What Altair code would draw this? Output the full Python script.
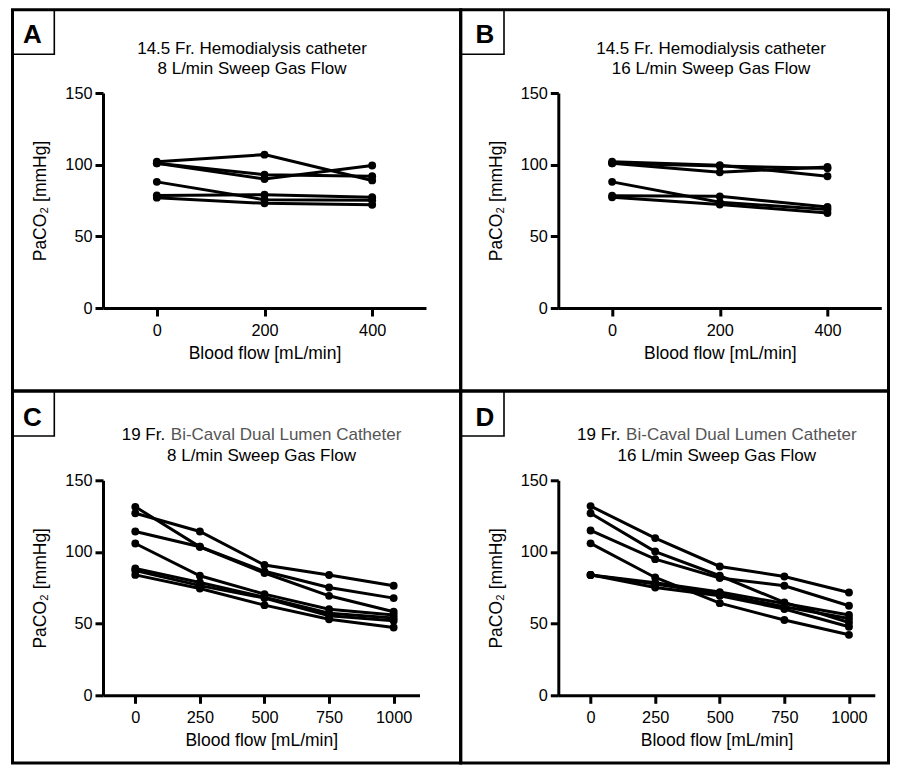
import altair as alt
import pandas as pd

FONT = "Liberation Sans"

flow_ab = [0, 200, 400]
flow_cd = [0, 250, 500, 750, 1000]

a_series = [
    [102, 107, 89],
    [101, 90, 99.4],
    [101, 93, 92],
    [88, 75.6, 75.2],
    [78.5, 79, 77.3],
    [77, 73, 72],
]
b_series = [
    [102, 99.6, 91.9],
    [101, 94.7, 98.4],
    [101, 99, 97.5],
    [88, 73.8, 68.7],
    [78.4, 77.9, 70.5],
    [77.3, 72.2, 66.3],
]
c_series = [
    [127, 114.3, 90.9, 83.9, 76.4],
    [131.5, 103.6, 85.3, 69.4, 58.3],
    [114.3, 103.6, 86.5, 75.2, 67.8],
    [105.9, 83.4, 70.6, 60.1, 56],
    [88.5, 78.7, 68.5, 57.3, 53.9],
    [87, 76.5, 67.8, 55.5, 52],
    [84, 74.5, 62.9, 53.1, 47.3],
]
d_series = [
    [132, 109.7, 89.9, 82.9, 71.7],
    [127, 100.3, 83.4, 64.8, 50.8],
    [115, 95, 81.8, 76.4, 62.5],
    [106, 82.2, 64.3, 52.5, 42.2],
    [84, 77.6, 70.6, 61.8, 53.6],
    [84, 75.2, 69.5, 60.2, 47.8],
    [84, 78.5, 72, 64, 56],
]

y_ticks = [0, 50, 100, 150]
x_ticks_ab = [0, 200, 400]
x_ticks_cd = [0, 250, 500, 750, 1000]

x_title = "Blood flow [mL/min]"
y_title = "PaCO\u2082 [mmHg]"

TITLE_FS = 17
H = 215


def panel(series, flows, letter, t1_black, t1_gray, t2, xdomain, xticks, width, g):
    rows = []
    for i, s in enumerate(series):
        for f, v in zip(flows, s):
            rows.append({"series": i, "flow": f, "paco2": v})
    df = pd.DataFrame(rows)
    x = alt.X("flow:Q", scale=alt.Scale(domain=xdomain, nice=False, zero=False),
              axis=alt.Axis(values=xticks, title=x_title, format="d"))
    y = alt.Y("paco2:Q", scale=alt.Scale(domain=[0, 150], nice=False),
              axis=alt.Axis(values=y_ticks, title=y_title))
    base = alt.Chart(df)
    lines = base.mark_line(color="black", strokeWidth=3).encode(x=x, y=y, detail="series:N")
    pts = base.mark_circle(color="black", size=62, opacity=1).encode(x=x, y=y, detail="series:N")

    one = alt.Chart(pd.DataFrame({"k": [0]}))
    cell = one.mark_rect(fillOpacity=0, stroke="black", strokeWidth=3).encode(
        x=alt.value(g["cx1"]), x2=alt.value(g["cx2"]), y=alt.value(g["cy1"]), y2=alt.value(g["cy2"]))
    box = one.mark_rect(fillOpacity=0, stroke="black", strokeWidth=1.6).encode(
        x=alt.value(g["cx1"]), x2=alt.value(g["bx2"]), y=alt.value(g["cy1"]), y2=alt.value(g["by2"]))
    let = one.mark_text(text=letter, font=FONT, fontSize=26, fontWeight="bold", color="black",
                        align="center", baseline="alphabetic").encode(
        x=alt.value(g["lx"]), y=alt.value(g["ly"]))
    layers = [lines, pts, cell, box, let]
    if t1_gray:
        layers.append(one.mark_text(text=t1_black, font=FONT, fontSize=TITLE_FS,
                                    color="black", align="left", baseline="alphabetic").encode(
            x=alt.value(g["t1x"]), y=alt.value(g["t1y"])))
        layers.append(one.mark_text(text=t1_gray, font=FONT, fontSize=TITLE_FS,
                                    color="#555555", align="left", baseline="alphabetic").encode(
            x=alt.value(g["t1x"] + 49.1), y=alt.value(g["t1y"])))
    else:
        layers.append(one.mark_text(text=t1_black, font=FONT, fontSize=TITLE_FS,
                                    color="black", align="center", baseline="alphabetic").encode(
            x=alt.value(g["tc"]), y=alt.value(g["t1y"])))
    layers.append(one.mark_text(text=t2, font=FONT, fontSize=TITLE_FS,
                                color="black", align="center", baseline="alphabetic").encode(
        x=alt.value(g["tc"]), y=alt.value(g["t2y"])))
    return alt.layer(*layers).properties(width=width, height=H)


gA = dict(cx1=-90.5, cx2=357.7, cy1=-83.3, cy2=298, bx2=-48.7, by2=-38.7,
          lx=-70.5, ly=-50, tc=149, t1y=-39.3, t2y=-19)
gB = dict(cx1=-97.6, cx2=330.2, cy1=-83.3, cy2=298, bx2=-54.3, by2=-38.7,
          lx=-73.3, ly=-50.3, tc=152.7, t1y=-39.3, t2y=-19)
gC = dict(cx1=-90.5, cx2=357.7, cy1=-89.3, cy2=282.7, bx2=-48.7, by2=-44.3,
          lx=-70.5, ly=-54.3, tc=158.5, t1x=18.7, t1y=-40.3, t2y=-19.3)
gD = dict(cx1=-97.6, cx2=330.2, cy1=-89.3, cy2=282.7, bx2=-54.3, by2=-44.3,
          lx=-73.3, ly=-54.3, tc=158.5, t1x=18.7, t1y=-40.3, t2y=-19.3)

pA = panel(a_series, flow_ab, "A", "14.5 Fr. Hemodialysis catheter", None,
           "8 L/min Sweep Gas Flow", [-100, 500], x_ticks_ab, 323, gA)
pB = panel(b_series, flow_ab, "B", "14.5 Fr. Hemodialysis catheter", None,
           "16 L/min Sweep Gas Flow", [-100, 500], x_ticks_ab, 323, gB)
pC = panel(c_series, flow_cd, "C", "19 Fr.", "Bi-Caval Dual Lumen Catheter",
           "8 L/min Sweep Gas Flow", [-125, 1100], x_ticks_cd, 316.5, gC)
pD = panel(d_series, flow_cd, "D", "19 Fr.", "Bi-Caval Dual Lumen Catheter",
           "16 L/min Sweep Gas Flow", [-125, 1100], x_ticks_cd, 316.5, gD)

chart = alt.concat(pA, pB, pC, pD, columns=2,
                   spacing={"row": 172.3, "column": 132.3}, bounds="flush").properties(
    padding={"left": 3, "top": 0, "right": 0, "bottom": 0}
).configure_view(stroke=None).configure_axis(
    domainColor="black", domainWidth=3, tickColor="black", tickWidth=3, tickSize=8,
    labelFont=FONT, labelFontSize=16.3, labelColor="black",
    titleFont=FONT, titleFontSize=17.5, titleFontWeight="normal", titleColor="black",
    grid=False
).configure_axisX(labelPadding=6, titlePadding=6).configure_axisY(labelPadding=3, titlePadding=15)

chart.save("out.html", embed_options={"renderer": "svg", "actions": False})
